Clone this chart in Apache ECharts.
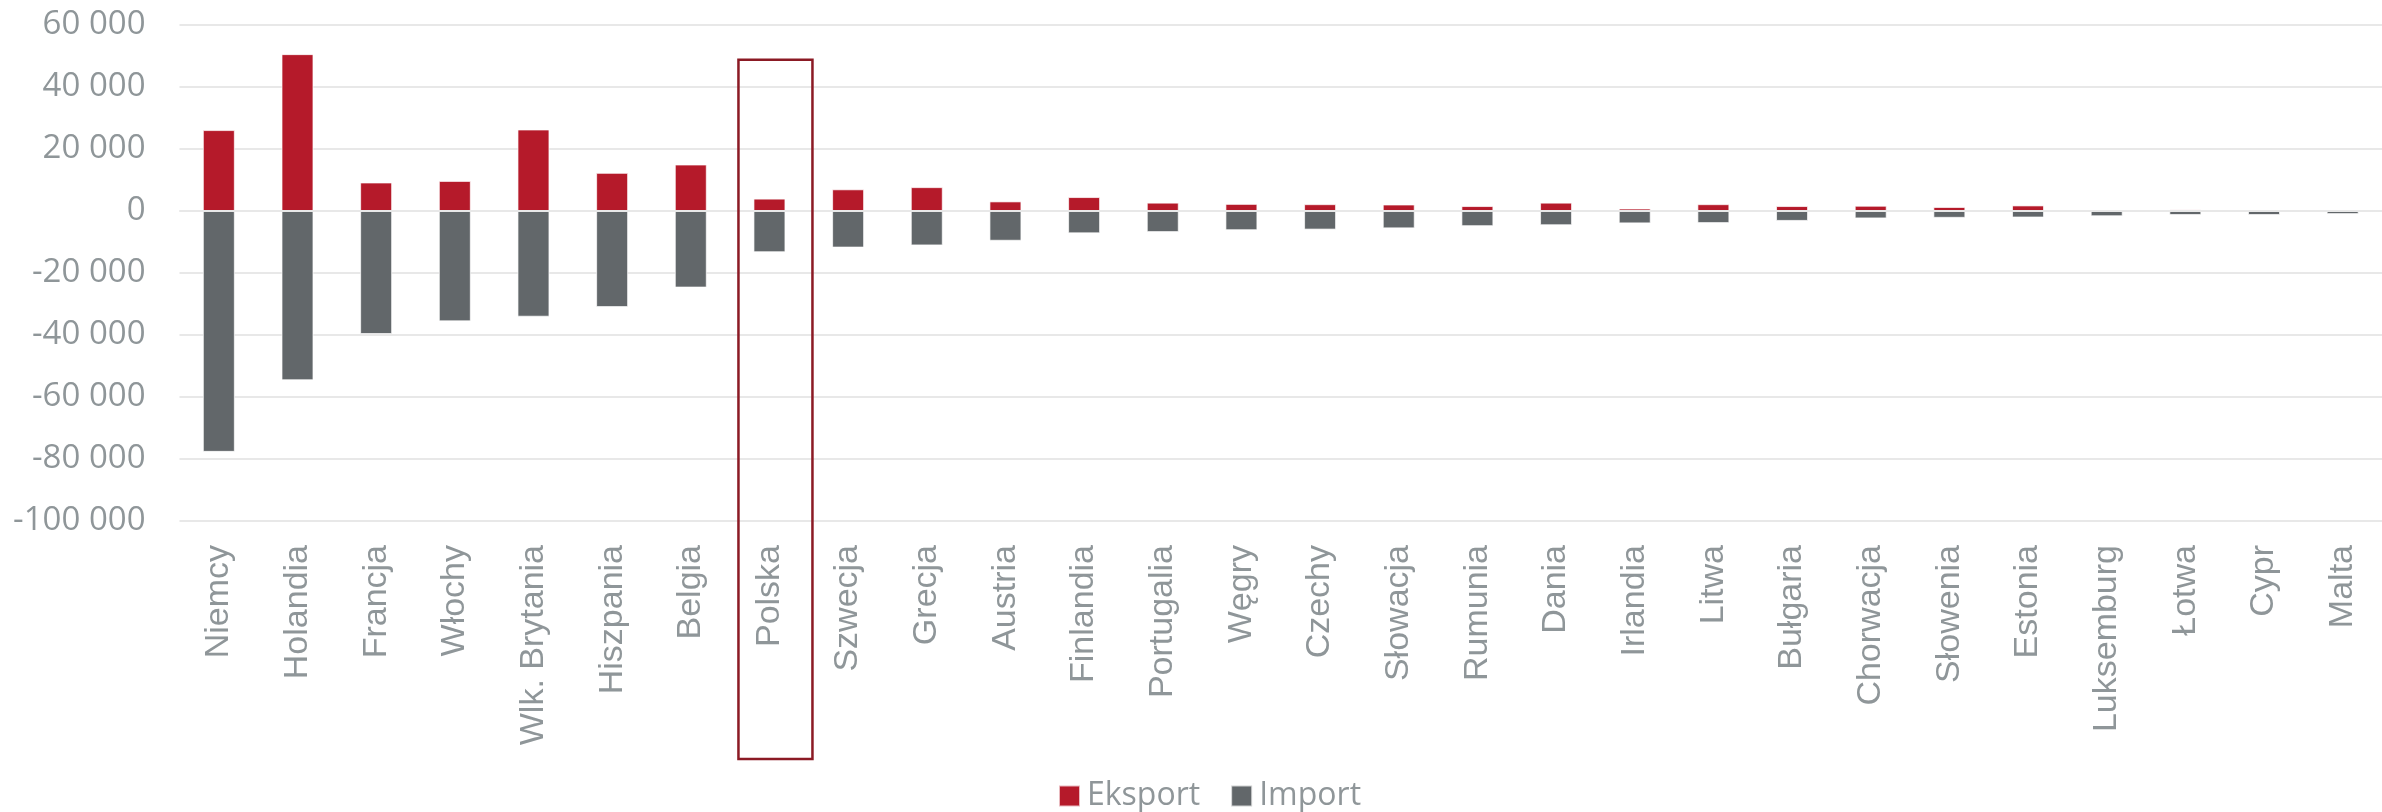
<!DOCTYPE html>
<html>
<head>
<meta charset="utf-8">
<script src="https://cdn.jsdelivr.net/npm/echarts@6/dist/echarts.min.js"></script>
<style>
  html, body { margin: 0; padding: 0; background: #fff; }
  #chart { width: 2382px; height: 812px; }
</style>
</head>
<body>
<div id="chart"></div>
<script>
const categories = [
  "Niemcy", "Holandia", "Francja", "Włochy", "Wlk. Brytania", "Hiszpania", "Belgia",
  "Polska", "Szwecja", "Grecja", "Austria", "Finlandia", "Portugalia", "Węgry",
  "Czechy", "Słowacja", "Rumunia", "Dania", "Irlandia", "Litwa", "Bułgaria",
  "Chorwacja", "Słowenia", "Estonia", "Luksemburg", "Łotwa", "Cypr", "Malta"
];
const eksport = [
  26100, 50600, 9200, 9700, 26300, 12300, 15000,
  4000, 7000, 7700, 3100, 4500, 2700, 2300,
  2200, 2100, 1600, 2700, 800, 2200, 1600,
  1700, 1300, 1800, 0, 500, 300, 0
];
const importValues = [
  -77700, -54600, -39700, -35600, -34100, -31000, -24700,
  -13300, -11800, -11100, -9600, -7200, -6800, -6200,
  -6000, -5600, -4900, -4600, -4000, -3900, -3200,
  -2400, -2200, -2100, -1700, -1300, -1300, -1000
];
const yTicks = { min: -100000, max: 60000, interval: 20000 };
const highlighted = "Polska";

const RED = "#b51a2a";
const GRAY = "#62676a";
const TEXT = "#8f9699";

const chart = echarts.init(document.getElementById("chart"));

const formatThousands = (v) => {
  const s = Math.abs(v).toString().replace(/\B(?=(\d{3})+(?!\d))/g, " ");
  return (v < 0 ? "-" : "") + s;
};

const option = {
  animation: false,
  grid: { left: 179.5, right: -9.5, top: 25, bottom: 291, containLabel: false },
  legend: {
    left: 1058,
    top: 780,
    padding: 0,
    icon: "rect",
    itemWidth: 21,
    itemHeight: 21,
    itemGap: 30,
    textStyle: { fontFamily: "Open Sans", fontSize: 32, color: TEXT, padding: [0, 0, 0, 2] },
    data: ["Eksport", "Import"]
  },
  xAxis: {
    type: "category",
    data: categories,
    axisLine: { show: false },
    axisTick: { show: false },
    axisLabel: {
      rotate: 90,
      margin: 24,
      interval: 0,
      fontFamily: "Liberation Sans, Arial, sans-serif",
      fontSize: 34,
      color: TEXT
    }
  },
  yAxis: {
    type: "value",
    min: yTicks.min,
    max: yTicks.max,
    interval: yTicks.interval,
    axisLine: { show: false },
    axisTick: { show: false },
    splitLine: { lineStyle: { color: "#e8e8e8", width: 2 } },
    axisLabel: {
      margin: 34,
      fontFamily: "Open Sans",
      fontSize: 33,
      color: TEXT,
      formatter: formatThousands
    }
  },
  series: [
    {
      name: "Eksport",
      type: "bar",
      stack: "total",
      barWidth: 32,
      data: eksport,
      itemStyle: { color: RED, borderColor: "rgba(255,255,255,0.7)", borderWidth: 1 }
    },
    {
      name: "Import",
      type: "bar",
      stack: "total",
      barWidth: 32,
      data: importValues,
      itemStyle: { color: GRAY, borderColor: "rgba(255,255,255,0.7)", borderWidth: 1 },
      markLine: {
        silent: true,
        symbol: "none",
        label: { show: false },
        lineStyle: { color: "#e8e8e8", width: 2, type: "solid" },
        data: [{ yAxis: 0 }]
      }
    }
  ]
};

chart.setOption(option);

// red frame around the highlighted country
const cx = chart.convertToPixel({ xAxisIndex: 0 }, highlighted);
const topY = chart.convertToPixel({ yAxisIndex: 0 }, 48800);
chart.setOption({
  graphic: [
    {
      type: "rect",
      shape: { x: cx - 31, y: topY, width: 74, height: 759 - topY },
      style: { fill: "none", stroke: "#8b1a24", lineWidth: 2.5 },
      z: 10
    }
  ]
});
</script>
</body>
</html>
